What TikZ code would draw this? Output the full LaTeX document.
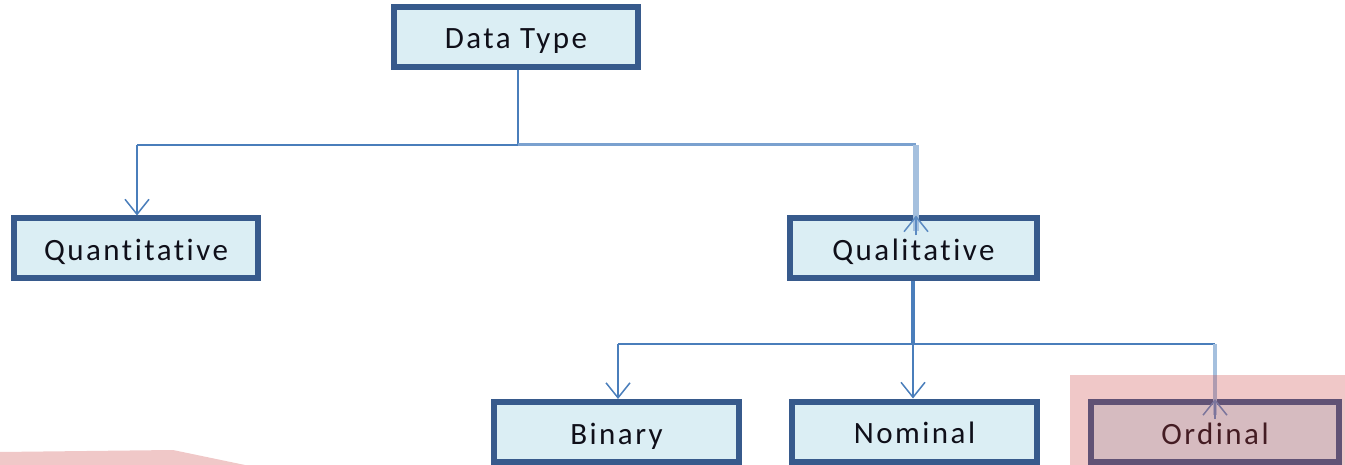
\documentclass[tikz,border=0pt]{standalone}
\usepackage{fontspec}
\setmainfont{Carlito}
\newfontfamily\boxfont[LetterSpace=8,Ligatures=NoCommon]{Carlito}
\usetikzlibrary{arrows.meta}
\definecolor{boxedge}{RGB}{55,90,140}
\definecolor{boxfill}{RGB}{219,238,244}
\definecolor{wire}{RGB}{74,126,187}
\definecolor{wirelight}{RGB}{122,161,207}
\definecolor{wirepale}{RGB}{165,192,222}
\definecolor{highlight}{RGB}{203,63,63}
\definecolor{ink}{RGB}{15,15,25}
\tikzset{
  typebox/.style={draw=boxedge, fill=boxfill, line width=6pt, inner sep=0pt,
    minimum height=60pt, text=ink, text height=24pt, text depth=0pt,
    font=\boxfont\fontsize{31}{31}\selectfont},
  conn/.style={draw=wire, line width=2.5pt},
  tip/.style={-{Straight Barb[length=15pt,width=24pt,line width=1.5pt]}},
  marker/.style={fill=highlight, fill opacity=0.286, draw=none}
}
\begin{document}
\begin{tikzpicture}[x=1pt, y=-1pt]
\useasboundingbox (0,0) rectangle (1345,465);

% boxes
\node[typebox, minimum width=244pt] (dt)    at (516,37)    {Data Type};
\node[typebox, minimum width=244pt] (quant) at (136,248.5) {Quantitative};
\node[typebox, minimum width=247pt] (qual)  at (913.5,248.5) {Qualitative};
\node[typebox, minimum width=245pt] (bin)   at (616.5,432) {Binary};
\node[typebox, minimum width=245pt] (nom)   at (914.5,431.5) {Nominal};
\node[typebox, minimum width=248pt] (ord)   at (1215,432)  {Ordinal};

% junction points of the tree
\coordinate (j1)  at (518,145);
\coordinate (j1l) at (137,145);
\coordinate (j1r) at (916,145);
\coordinate (j2)  at (913,344);
\coordinate (j2l) at (618,344);
\coordinate (j2r) at (1215,344);

% first level
\draw[conn] (dt.south -| j1) -- (j1);
\draw[conn] (j1) -- (j1l);
\draw[conn, tip] (j1l) -- (quant.north -| j1l);
\draw[draw=wirelight, line width=3pt] (j1) -- (j1r);
\draw[draw=wirepale, line width=6pt] (j1r) -- ([yshift=-16pt]qual.north -| j1r);
\draw[conn, draw=wire!80!wirepale, tip] ([yshift=-20pt]qual.north -| j1r) -- (qual.north -| j1r);

% second level
\draw[conn, line width=4.5pt] (qual.south -| j2) -- (j2);
\draw[conn] (j2l) -- (j2r);
\draw[conn, tip] (j2l) -- (bin.north -| j2l);
\draw[conn, tip] (j2) -- (nom.north -| j2);
\draw[draw=wirepale, line width=4pt] (j2r) -- ([yshift=-16pt]ord.north -| j2r);
\draw[conn, draw=wire!80!wirepale, tip] ([yshift=-20pt]ord.north -| j2r) -- (ord.north -| j2r);

% translucent highlight marks
\fill[marker] (1070,375) rectangle (1345,465);
\fill[marker] (0,452) -- (173,450) -- (245,465) -- (0,465) -- cycle;
\end{tikzpicture}
\end{document}
